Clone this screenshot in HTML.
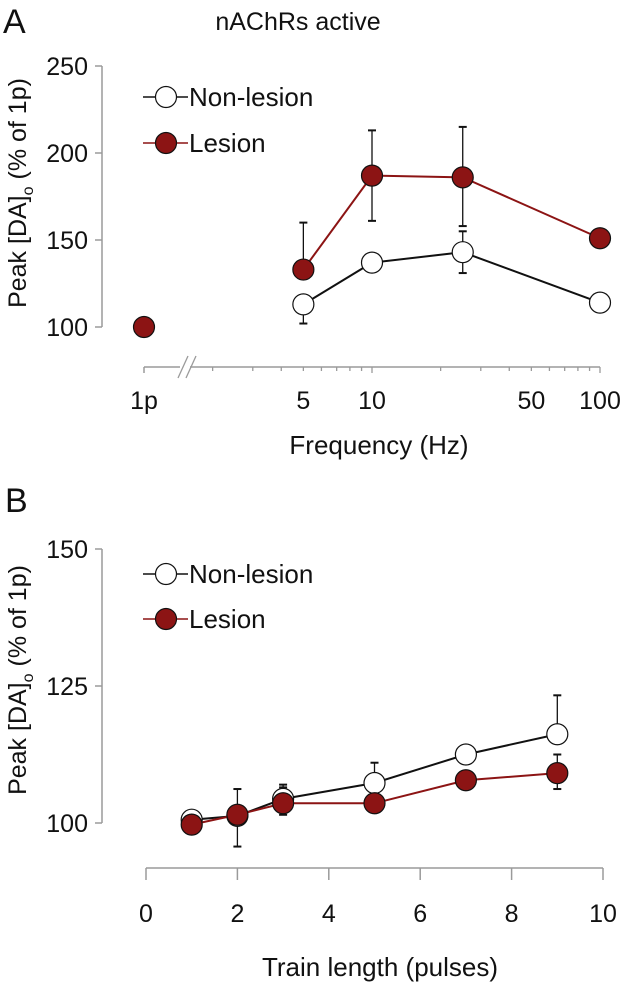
<!DOCTYPE html>
<html><head><meta charset="utf-8"><style>
html,body{margin:0;padding:0;background:#fff;}
svg{display:block;font-family:"Liberation Sans",Arial,sans-serif;}
</style></head><body>
<svg id="fig" width="624" height="983" viewBox="0 0 624 983"></svg>
<script>
// Panel A data
const freqCats = ["1p", 5, 10, 25, 100];
const lesionA = [100, 133, 187, 186, 151];
const lesionAErrHi = [100, 160, 213, 215, 151];
const lesionAErrLo = [100, 133, 161, 158, 146];
const nonFreq = [5, 10, 25, 100];
const nonA = [113, 137, 143, 114];
const nonAErrHi = [113, 137, 155, 114];
const nonAErrLo = [102, 137, 131, 114];
const yTicksA = [100, 150, 200, 250];
const xTickLabelsA = ["1p", 5, 10, 50, 100];
// Panel B data
const pulses = [1, 2, 3, 5, 7, 9];
const nonB = [100.6, 101.3, 104.4, 107.3, 112.5, 116.2];
const nonBErrHi = [100.6, 101.3, 106.5, 111, 113, 123.3];
const nonBErrLo = [100.6, 101.3, 102, 107.3, 112.5, 116.2];
const lesionB = [99.7, 101.5, 103.6, 103.6, 107.8, 109.1];
const lesionBErrHi = [99.7, 106.2, 107, 103.6, 109.5, 112.5];
const lesionBErrLo = [99.7, 95.7, 101.5, 102, 107.8, 106.2];
const yTicksB = [100, 125, 150];
const xTicksB = [0, 2, 4, 6, 8, 10];

const NS = "http://www.w3.org/2000/svg";
const svg = document.getElementById("fig");
const RED = "#8c1414", GRAY = "#9a9a9a";
function el(tag, attrs, parent) {
  const e = document.createElementNS(NS, tag);
  for (const k in attrs) e.setAttribute(k, attrs[k]);
  (parent || svg).appendChild(e);
  return e;
}
function txt(s, x, y, size, anchor, parent) {
  const t = el("text", {x: x, y: y, "font-size": size, "text-anchor": anchor || "middle", fill: "#111"}, parent);
  t.textContent = s;
  return t;
}

// ---------- Panel A ----------
const gA = el("g", {});


const yA = v => 327 - (v - 100) / 50 * 87;
const xA = f => f === "1p" ? 144 : 372 + 228 * Math.log10(f / 10);

let t = txt("A", 3, 33, 34, "start", gA);
 
t = txt("nAChRs active", 298, 30, 25, "middle", gA);
 

ax = el("line", {x1: 102, y1: yA(250), x2: 102, y2: yA(100), stroke: GRAY, "stroke-width": 1.5}, gA);
 
yTicksA.forEach(v => {
  el("line", {x1: 95, y1: yA(v), x2: 102, y2: yA(v), stroke: GRAY, "stroke-width": 1.5}, gA);
  const l = txt(String(v), 88, yA(v) + 9, 25, "end", gA);
   
});
var ax = el("line", {x1: 144, y1: 367, x2: 600, y2: 367, stroke: GRAY, "stroke-width": 1.5}, gA);
 
el("rect", {x: 180, y: 355, width: 10, height: 24, fill: "#fff"}, gA);
el("line", {x1: 178, y1: 378, x2: 188, y2: 356, stroke: GRAY, "stroke-width": 1.3}, gA);
el("line", {x1: 186, y1: 378, x2: 196, y2: 356, stroke: GRAY, "stroke-width": 1.3}, gA);
el("line", {x1: 144, y1: 367, x2: 144, y2: 373, stroke: GRAY, "stroke-width": 1.5}, gA);
for (let d = 1; d <= 10; d *= 10) {
  for (let m = 2; m <= 10; m++) {
    const f = m * d;
    const major = (m === 10);
    el("line", {x1: xA(f), y1: 367, x2: xA(f), y2: 367 + (major ? 6 : 4), stroke: GRAY, "stroke-width": 1.3}, gA);
  }
}
xTickLabelsA.forEach(f => {
  const l = txt(String(f), xA(f), 409, 25, "middle", gA);
   
});
t = txt("Frequency (Hz)", 379, 454, 26, "middle", gA);
 
t = el("text", {x: 0, y: 0, "font-size": 25, "text-anchor": "middle", fill: "#111", transform: "translate(26,193) rotate(-90)"}, gA);
t.innerHTML = 'Peak [DA]<tspan font-size="16" dy="7">o</tspan><tspan dy="-7"> (% of 1p)</tspan>';
 

function errs(g, xs, lo, hi, xf, yf) {
  xs.forEach((x, i) => {
    if (hi[i] - lo[i] < 0.01) return;
    const e = el("g", {stroke: "#111", "stroke-width": 1.3}, g);
     
    el("line", {x1: xf(x), y1: yf(hi[i]), x2: xf(x), y2: yf(lo[i])}, e);
    el("line", {x1: xf(x) - 4, y1: yf(hi[i]), x2: xf(x) + 4, y2: yf(hi[i]), "stroke-width": 2}, e);
    el("line", {x1: xf(x) - 4, y1: yf(lo[i]), x2: xf(x) + 4, y2: yf(lo[i]), "stroke-width": 2}, e);
  });
}
function series(g, xs, ys, xf, yf, color, fill, name, skipFirstLine) {
  const pts = xs.map((x, i) => xf(x) + "," + yf(ys[i]));
  const line = el("polyline", {points: (skipFirstLine ? pts.slice(1) : pts).join(" "), fill: "none", stroke: color, "stroke-width": 2}, g);
   
  xs.forEach((x, i) => {
    const c = el("circle", {cx: xf(x), cy: yf(ys[i]), r: 10.5, fill: fill, stroke: "#111", "stroke-width": 1.2}, g);
     
  });
}
errs(gA, nonFreq, nonAErrLo, nonAErrHi, xA, yA);
errs(gA, freqCats, lesionAErrLo, lesionAErrHi, xA, yA);
series(gA, nonFreq, nonA, xA, yA, "#111", "#fff", "non-lesion-a", false);
series(gA, freqCats, lesionA, xA, yA, RED, RED, "lesion-a", true);

function legend(g, y1, y2) {
  let lg = el("g", {}, g);
   
  el("line", {x1: 143, y1: y1, x2: 188, y2: y1, stroke: "#111", "stroke-width": 1.5}, lg);
  el("circle", {cx: 166, cy: y1, r: 10.5, fill: "#fff", stroke: "#111", "stroke-width": 1.2}, lg);
  txt("Non-lesion", 189, y1 + 9, 26, "start", lg);
  lg = el("g", {}, g);
   
  el("line", {x1: 143, y1: y2, x2: 188, y2: y2, stroke: RED, "stroke-width": 1.5}, lg);
  el("circle", {cx: 166, cy: y2, r: 10.5, fill: RED, stroke: "#111", "stroke-width": 1.2}, lg);
  txt("Lesion", 189, y2 + 9, 26, "start", lg);
}
legend(gA, 97, 143);

// ---------- Panel B ----------
const gB = el("g", {});


const yB = v => 823 - (v - 100) / 50 * 274;
const xB = v => 146 + v * 45.7;
t = txt("B", 5, 512, 34, "start", gB);
 
ax = el("line", {x1: 102, y1: yB(150), x2: 102, y2: yB(100), stroke: GRAY, "stroke-width": 1.5}, gB);
 
yTicksB.forEach(v => {
  el("line", {x1: 95, y1: yB(v), x2: 102, y2: yB(v), stroke: GRAY, "stroke-width": 1.5}, gB);
  const l = txt(String(v), 88, yB(v) + 9, 25, "end", gB);
   
});
ax = el("line", {x1: xB(0), y1: 868, x2: xB(10), y2: 868, stroke: GRAY, "stroke-width": 1.5}, gB);
 
xTicksB.forEach(v => {
  el("line", {x1: xB(v), y1: 868, x2: xB(v), y2: 880, stroke: GRAY, "stroke-width": 1.5}, gB);
  const l = txt(String(v), xB(v), 922, 25, "middle", gB);
   
});
t = txt("Train length (pulses)", 380, 976, 26, "middle", gB);
 
t = el("text", {x: 0, y: 0, "font-size": 25, "text-anchor": "middle", fill: "#111", transform: "translate(26,680) rotate(-90)"}, gB);
t.innerHTML = 'Peak [DA]<tspan font-size="16" dy="7">o</tspan><tspan dy="-7"> (% of 1p)</tspan>';
 
errs(gB, pulses, nonBErrLo, nonBErrHi, xB, yB);
errs(gB, pulses, lesionBErrLo, lesionBErrHi, xB, yB);
series(gB, pulses, nonB, xB, yB, "#111", "#fff", "non-lesion-b", false);
series(gB, pulses, lesionB, xB, yB, RED, RED, "lesion-b", false);
legend(gB, 574, 619);
</script>
</body></html>
